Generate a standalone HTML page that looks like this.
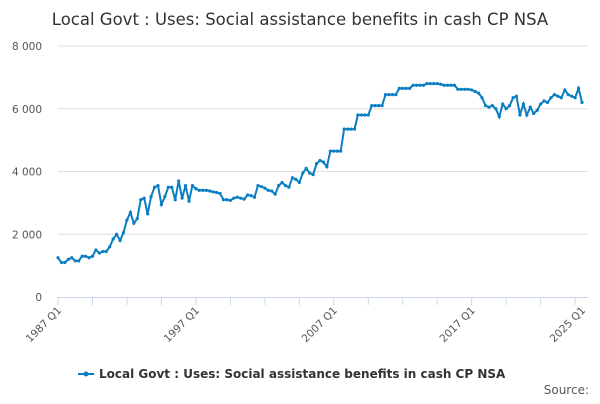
<!DOCTYPE html>
<html><head><meta charset="utf-8"><style>
body{margin:0;background:#fff;font-family:"DejaVu Sans",sans-serif}
svg text{font-family:"DejaVu Sans","Liberation Sans",sans-serif}
</style></head><body>
<svg width="600" height="400" xmlns="http://www.w3.org/2000/svg">
<text x="300" y="25" text-anchor="middle" font-size="16.5" fill="#333">Local Govt : Uses: Social assistance benefits in cash CP NSA</text>
<g id="grid"></g><g id="yt"></g><g id="xt"></g>
<path id="line" fill="none" stroke="#0a7ec2" stroke-width="2"/>
<g id="pts"></g>
<g>
<line x1="78" y1="374" x2="94" y2="374" stroke="#0a7ec2" stroke-width="2"/>
<circle cx="86" cy="374" r="2.5" fill="#0a7ec2"/>
<text x="99" y="378" font-size="12" font-weight="bold" fill="#333">Local Govt : Uses: Social assistance benefits in cash CP NSA</text>
</g>
<text x="589" y="394" text-anchor="end" font-size="12" fill="#555">Source:</text>
</svg>
<script>
const startYear = 1987;
const yTicks = [0, 2000, 4000, 6000, 8000];
const yTickLabels = ["0", "2 000", "4 000", "6 000", "8 000"];
const xLabelIdx = [0, 40, 80, 120, 152];
const xLabels = ["1987 Q1", "1997 Q1", "2007 Q1", "2017 Q1", "2025 Q1"];
const values = [
1250,1100,1100,1200, 1250,1150,1150,1300, 1300,1250,1300,1500, 1400,1450,1450,1600,
1850,2000,1800,2050, 2450,2700,2350,2500, 3100,3150,2650,3200, 3500,3550,2950,3200,
3500,3500,3100,3700, 3150,3550,3050,3550, 3450,3400,3400,3400, 3380,3350,3330,3300,
3100,3100,3080,3150, 3180,3150,3120,3250, 3230,3180,3550,3520, 3470,3400,3380,3280,
3550,3650,3550,3500, 3800,3750,3650,3950, 4100,3950,3900,4250, 4350,4300,4150,4650,
4650,4650,4650,5350, 5350,5350,5350,5800, 5800,5800,5800,6100, 6100,6100,6100,6450,
6450,6450,6450,6650, 6650,6650,6650,6750, 6750,6750,6750,6800, 6800,6800,6800,6780,
6750,6750,6750,6750, 6620,6620,6620,6620, 6600,6550,6500,6350, 6100,6050,6100,6000,
5750,6150,6000,6100, 6350,6400,5800,6150, 5800,6050,5850,5950, 6150,6250,6200,6350,
6450,6400,6350,6600, 6450,6400,6350,6650, 6200];
const NS="http://www.w3.org/2000/svg";
const x0=58,x1=582,y0=297,yTop=46;
const n=values.length;
const xs=i=>x0+(x1-x0)*i/(n-1);
const ys=v=>y0-(y0-yTop)*v/8000;
const grid=document.getElementById('grid'),yt=document.getElementById('yt'),xt=document.getElementById('xt');
yTicks.forEach((t,k)=>{
 if(t>0){const l=document.createElementNS(NS,'line');
 l.setAttribute('x1',x0);l.setAttribute('x2',x1+6);l.setAttribute('y1',ys(t));l.setAttribute('y2',ys(t));
 l.setAttribute('stroke','#e0e0e0');
 
 
 grid.appendChild(l);}
 const tx=document.createElementNS(NS,'text');
 tx.setAttribute('x',42);tx.setAttribute('y',ys(t)+4);tx.setAttribute('text-anchor','end');
 tx.setAttribute('font-size','10.5');tx.setAttribute('fill','#555');tx.textContent=yTickLabels[k];
 
 
 yt.appendChild(tx);
});
const ax=document.createElementNS(NS,'line');
ax.setAttribute('x1',x0-1);ax.setAttribute('x2',x1+6);ax.setAttribute('y1',y0+0.5);ax.setAttribute('y2',y0+0.5);ax.setAttribute('stroke','#ccd6eb');


xt.appendChild(ax);
for(let i=0;i<n;i+=10){
 const l=document.createElementNS(NS,'line');
 l.setAttribute('x1',xs(i));l.setAttribute('x2',xs(i));l.setAttribute('y1',y0);l.setAttribute('y2',y0+8);l.setAttribute('stroke','#ccd6eb');
 
 
 xt.appendChild(l);
}
xLabelIdx.forEach((idx,k)=>{
 const tx=document.createElementNS(NS,'text');
 const x=xs(idx)+4,y=y0+14;
 tx.setAttribute('x',x);tx.setAttribute('y',y);tx.setAttribute('text-anchor','end');
 tx.setAttribute('transform','rotate(-45 '+x+' '+y+')');
 tx.setAttribute('font-size','10.5');tx.setAttribute('fill','#555');tx.textContent=xLabels[k];
 
 
 xt.appendChild(tx);
});
document.getElementById('line').setAttribute('d',values.map((v,i)=>(i?'L':'M')+xs(i).toFixed(1)+' '+ys(v).toFixed(1)).join(''));
const pts=document.getElementById('pts');
values.forEach((v,i)=>{
 const c=document.createElementNS(NS,'circle');
 c.setAttribute('cx',xs(i));c.setAttribute('cy',ys(v));c.setAttribute('r',1.6);c.setAttribute('fill','#0a7ec2');
 
 
 pts.appendChild(c);
});
</script>
</body></html>
